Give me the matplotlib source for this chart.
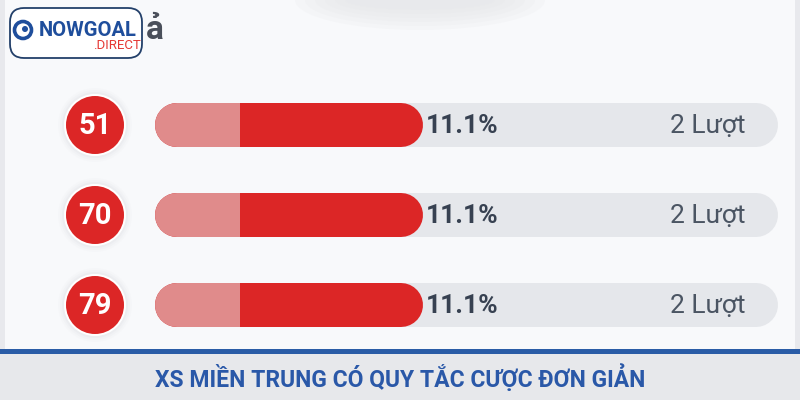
import matplotlib.pyplot as plt
from matplotlib.patches import FancyBboxPatch, Rectangle, Circle, Ellipse

# values
numbers = ["51", "70", "79"]
percents = [11.1, 11.1, 11.1]
turns = [2, 2, 2]
fill_share = [0.43, 0.43, 0.43]   # share of the grey track covered by the red bar
title = "XS MIỀN TRUNG CÓ QUY TẮC CƯỢC ĐƠN GIẢN"

BG = "#f8f9fb"
RED = "#dc2626"
RED_LIGHT = "#e08b8b"
TRACK = "#e5e7eb"
BLUE = "#2a58a8"

fig = plt.figure(figsize=(8, 4), dpi=100)
fig.patch.set_facecolor(BG)
ax = fig.add_axes([0, 0, 1, 1])
ax.set_xlim(0, 800)
ax.set_ylim(400, 0)
ax.axis("off")

px = 72 / 100  # points per pixel

# faint frame edges and top shadow
ax.add_patch(Rectangle((0, 0), 5, 350, fc="#e8e9ed", ec="none"))
ax.add_patch(Rectangle((795, 0), 5, 350, fc="#e8e9ed", ec="none"))
for k in range(6):
    ax.add_patch(Ellipse((420, 0), 250 - k * 20, 60 - k * 8, fc="#e4e5e8", ec="none", alpha=0.18))

# logo
ax.text(146, 30, "ả", fontsize=24, fontweight="bold", color="#4a4f5a",
        va="center", ha="left", family=["Roboto", "DejaVu Sans"])
ax.add_patch(FancyBboxPatch((10, 8), 132, 50, boxstyle="round,pad=0,rounding_size=14",
                            fc="white", ec="#23406a", lw=1.3))
ax.add_patch(Circle((23, 30), 8.5, fc="none", ec="#1f4e9c", lw=2.6))
ax.add_patch(Circle((25, 29), 3, fc="#1f4e9c", ec="none"))
ax.text(39, 36, "NOWGOAL", fontsize=14.5, fontweight="bold", color="#1f4e9c",
        va="baseline", ha="left", family="Roboto")
ax.text(141, 39, ".DIRECT", fontsize=9.5, color="#e53935",
        va="top", ha="right", family="Roboto")

x0, track_w, bar_h = 155, 623, 44
r = bar_h / 2
light_w = 85
for i, (num, pct, cnt, share) in enumerate(zip(numbers, percents, turns, fill_share)):
    y = 125 + i * 90
    # number badge with a soft halo
    for rr, a in [(37, 0.05), (35, 0.08), (33, 0.12)]:
        ax.add_patch(Circle((95, y), rr, fc="#c9ccd3", ec="none", alpha=a))
    ax.add_patch(Circle((95, y), 31, fc="white", ec="none"))
    ax.add_patch(Circle((95, y), 29, fc=RED, ec="none"))
    ax.text(95, y + 1, num, fontsize=21, fontweight="bold", color="white",
            ha="center", va="center", family="Roboto")

    # grey track and red bar as round-capped strokes
    ax.plot([x0 + r, x0 + track_w - r], [y, y], color=TRACK, lw=bar_h * px,
            solid_capstyle="round")
    red_w = track_w * share
    ax.plot([x0 + r, x0 + red_w - r], [y, y], color=RED, lw=bar_h * px,
            solid_capstyle="round")
    light, = ax.plot([x0 + r, x0 + red_w - r], [y, y], color=RED_LIGHT, lw=bar_h * px,
                     solid_capstyle="round")
    clip = Rectangle((x0 - 2, y - bar_h), light_w + 2, bar_h * 2, transform=ax.transData)
    light.set_clip_path(clip)

    ax.text(x0 + red_w + 3, y + 1, f"{pct:.1f}%", fontsize=19, fontweight="bold",
            color="#374151", ha="left", va="center", family="Roboto")
    ax.text(745, y + 1, f"{cnt} Lượt", fontsize=19, color="#4b5563",
            ha="right", va="center", family="Roboto")

# bottom banner
ax.add_patch(Rectangle((0, 354), 800, 46, fc="#e7e8eb", ec="none"))
ax.add_patch(Rectangle((0, 349), 800, 5, fc="#2a5ca6", ec="none"))
ax.text(400, 378, title, fontsize=16.5, fontweight="bold", color=BLUE,
        ha="center", va="center", fontstretch="condensed",
        family=["Liberation Sans Narrow", "Roboto", "DejaVu Sans"])

fig.savefig("out.png", dpi=100, facecolor=BG)
